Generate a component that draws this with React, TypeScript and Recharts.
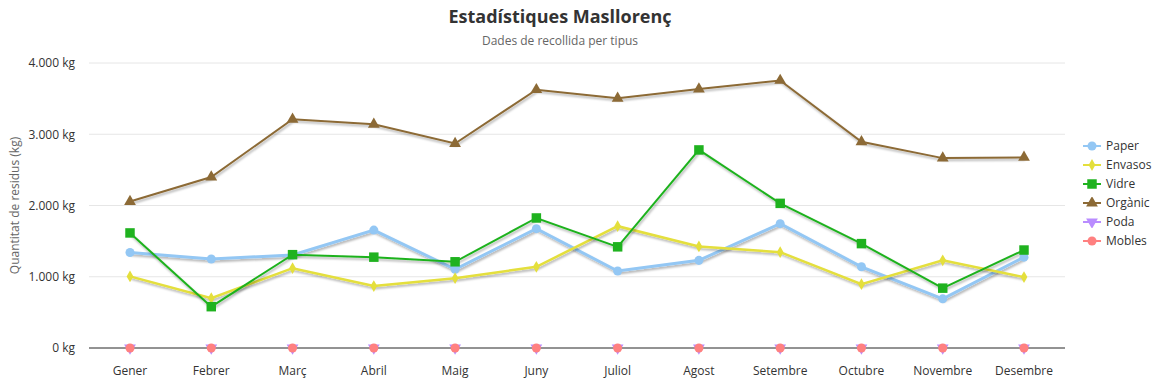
import React from 'react';
import { LineChart, Line, XAxis, YAxis, CartesianGrid, Symbols } from 'recharts';

const months = ['Gener', 'Febrer', 'Març', 'Abril', 'Maig', 'Juny', 'Juliol', 'Agost', 'Setembre', 'Octubre', 'Novembre', 'Desembre'];
const paper = [1340, 1250, 1305, 1655, 1105, 1675, 1080, 1230, 1745, 1140, 690, 1275];
const envasos = [1005, 700, 1120, 870, 980, 1140, 1710, 1425, 1345, 895, 1230, 995];
const vidre = [1615, 580, 1310, 1275, 1210, 1825, 1420, 2780, 2030, 1465, 840, 1375];
const organic = [2055, 2400, 3210, 3140, 2870, 3625, 3505, 3635, 3755, 2895, 2665, 2675];
const poda = [0, 0, 0, 0, 0, 0, 0, 0, 0, 0, 0, 0];
const mobles = [0, 0, 0, 0, 0, 0, 0, 0, 0, 0, 0, 0];
const yTicks = [0, 1000, 2000, 3000, 4000];

const seriesDefs = [
  { key: 'paper', name: 'Paper', color: '#93c7f4', shape: 'circle', size: 64, width: 3, values: paper },
  { key: 'envasos', name: 'Envasos', color: '#e4df3c', shape: 'diamond', size: 40, width: 2.5, values: envasos },
  { key: 'vidre', name: 'Vidre', color: '#1fb21f', shape: 'square', size: 90, width: 2, values: vidre },
  { key: 'organic', name: 'Orgànic', color: '#8c6a36', shape: 'triangle', size: 60, width: 2, values: organic },
  { key: 'poda', name: 'Poda', color: '#b98cff', shape: 'triangleDown', size: 60, width: 2, values: poda },
  { key: 'mobles', name: 'Mobles', color: '#ff8080', shape: 'circle', size: 64, width: 2, values: mobles },
];

const data = months.map((m, i) => {
  const row: any = { month: m };
  seriesDefs.forEach((s) => { row[s.key] = s.values[i]; });
  return row;
});

const fmt = (v: number) => {
  if (v >= 1000) return `${Math.floor(v / 1000)}.${String(v % 1000).padStart(3, '0')} kg`;
  return `${v} kg`;
};

const FONT = '"Open Sans", "Noto Sans", sans-serif';

function Marker({ shape, cx, cy, color, size }: any) {
  if (shape === 'triangleDown') {
    return (
      <g transform={`rotate(180 ${cx} ${cy})`}>
        <Symbols cx={cx} cy={cy} type="triangle" size={size} fill={color} />
      </g>
    );
  }
  return <Symbols cx={cx} cy={cy} type={shape} size={size} fill={color} />;
}

export default function App() {
  return (
    <div style={{ position: 'relative', width: 1145, height: 374, fontFamily: FONT }}>
      <div style={{ position: 'absolute', left: 0, width: 1104, top: -4, textAlign: 'center', fontSize: 18, fontWeight: 700, color: '#333' }}>
        Estadístiques Masllorenç
      </div>
      <div style={{ position: 'absolute', left: 0, width: 1104, top: 24, textAlign: 'center', fontSize: 12, color: '#666' }}>
        Dades de recollida per tipus
      </div>
      <LineChart width={1145} height={374} data={data} margin={{ top: 55, right: 88, bottom: 4, left: 0 }}>
        <defs>
          <filter id="shadow" x="-5%" y="-20%" width="110%" height="140%">
            <feDropShadow dx="1" dy="2" stdDeviation="1.2" floodColor="#000" floodOpacity="0.3" />
          </filter>
        </defs>
        <CartesianGrid vertical={false} stroke="#e6e6e6" />
        <XAxis
          dataKey="month"
          tickLine={false}
          tickMargin={12}
          padding={{ left: 41, right: 41 }}
          axisLine={{ stroke: '#333', strokeWidth: 1 }}
          tick={{ fill: '#333', fontSize: 12, fontFamily: FONT }}
          interval={0}
        />
        <YAxis
          width={81}
          domain={[0, 4000]}
          ticks={yTicks}
          tickFormatter={fmt}
          axisLine={false}
          tickLine={false}
          tickMargin={8}
          tick={{ fill: '#333', fontSize: 12, fontFamily: FONT }}
          label={{
            content: (props: any) => {
              const vb = props.viewBox || { x: 0, y: 0, width: 0, height: 0 };
              const cx = 6;
              const cy = vb.y + vb.height / 2;
              return (
                <text x={cx} y={cy} transform={`rotate(-90 ${cx} ${cy})`} textAnchor="middle" dominantBaseline="central" fill="#666" fontSize={12} fontFamily={FONT}>
                  Quantitat de residus (kg)
                </text>
              );
            },
          }}
        />
        {seriesDefs.map((s) => (
          <Line
            key={s.key}
            dataKey={s.key}
            name={s.name}
            stroke={s.color}
            strokeWidth={s.width}
            filter="url(#shadow)"
            isAnimationActive={false}
            activeDot={false}
            dot={(p: any) => (
              <Marker key={`${s.key}-${p.index}`} shape={s.shape} cx={p.cx} cy={p.cy} color={s.color} size={s.size} />
            )}
          />
        ))}
      </LineChart>
      <div style={{ position: 'absolute', left: 1074, top: 128, fontSize: 12, color: '#333' }}>
        {seriesDefs.map((s) => (
          <div key={s.key} style={{ display: 'flex', alignItems: 'center', height: 19 }}>
            <svg width={20} height={12} style={{ marginRight: 4 }}>
              <line x1={1} y1={6} x2={19} y2={6} stroke={s.color} strokeWidth={2} />
              <Marker shape={s.shape} cx={10} cy={6} color={s.color} size={s.size} />
            </svg>
            <span>{s.name}</span>
          </div>
        ))}
      </div>
    </div>
  );
}
